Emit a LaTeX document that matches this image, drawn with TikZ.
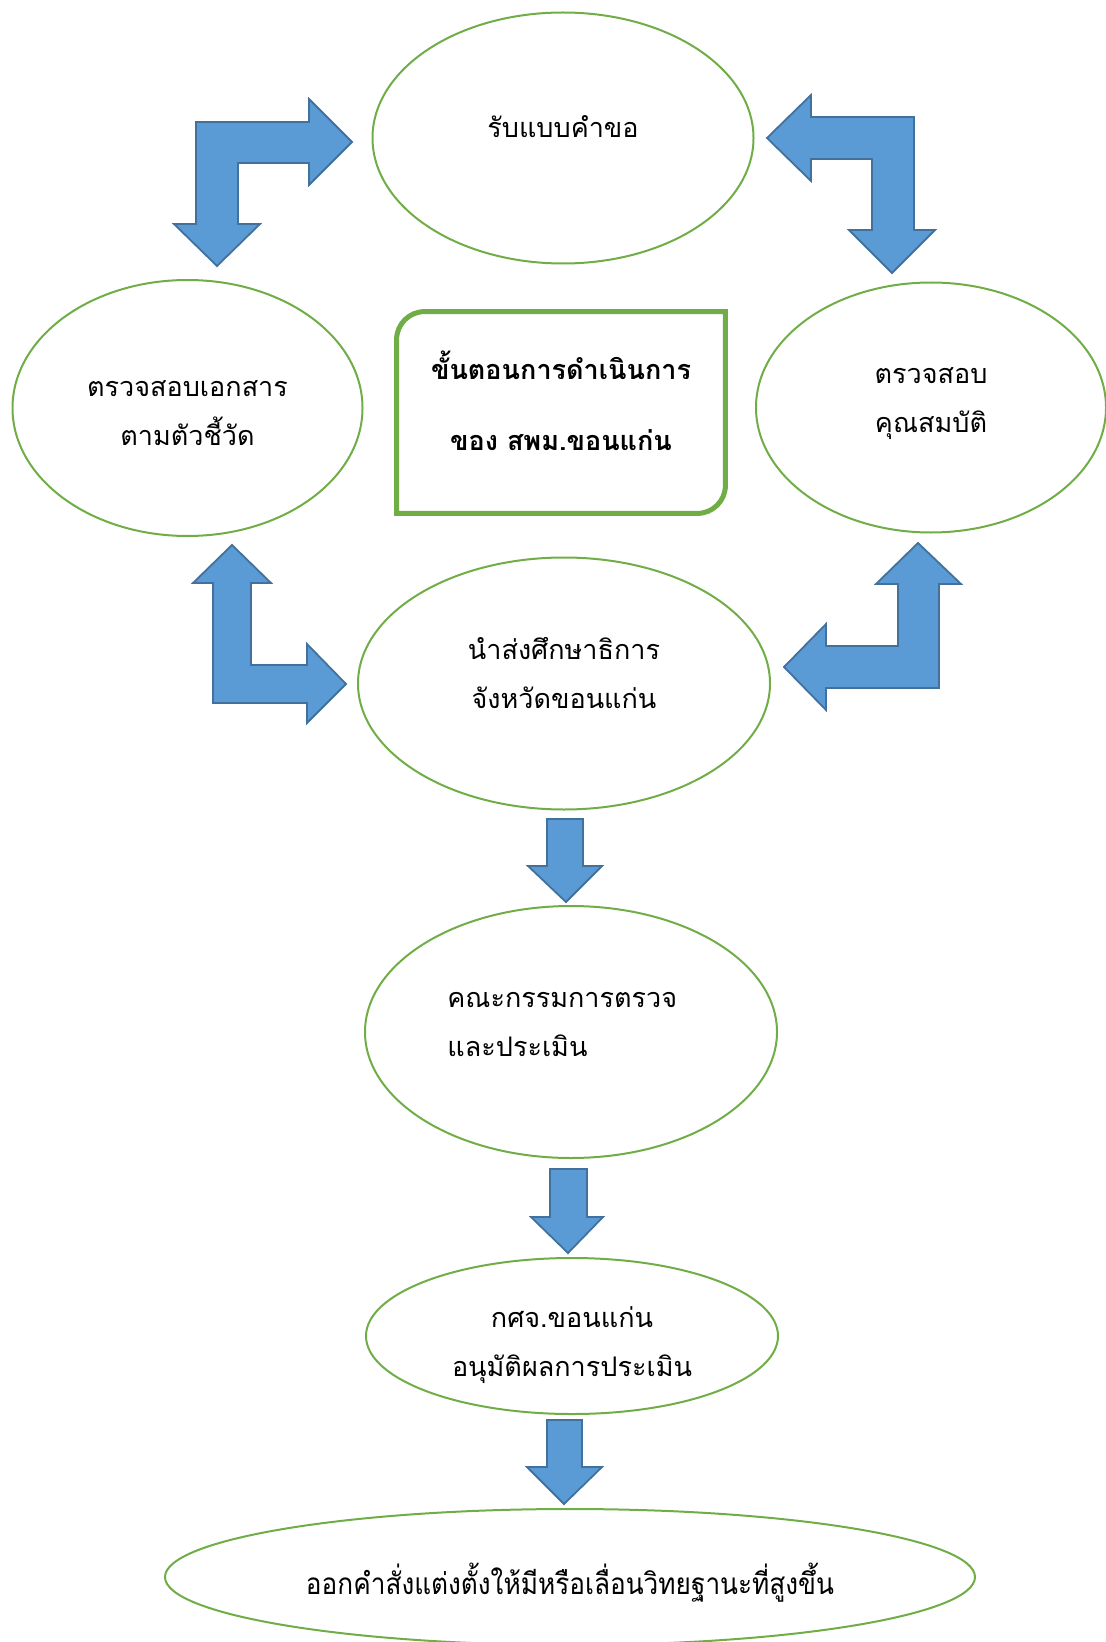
\documentclass[tikz,border=0pt]{standalone}
\usepackage{fontspec}
\newfontfamily\thaifont[Script=Thai]{Loma}
\usetikzlibrary{shapes.geometric}
\definecolor{stagegreen}{HTML}{70AD47}
\definecolor{arrowfill}{HTML}{5B9BD5}
\definecolor{arrowline}{HTML}{41719C}

\begin{document}
\begin{tikzpicture}[x=0.5pt,y=-0.5pt]

\tikzset{stage/.style = {shape=ellipse,draw=stagegreen,line width=1pt,inner sep=0pt}}
\tikzset{stagetext/.style = {align=center,inner sep=0pt,font=\thaifont\fontsize{13.5}{24.5}\selectfont}}
\tikzset{blockarrow/.style = {fill=arrowfill,draw=arrowline,line width=0.9pt,line join=miter}}
\useasboundingbox (0,0) rectangle (1106,1642);
%stages
\node[stage, minimum width=190.5pt, minimum height=125.5pt] (recv) at (563,138) {};
\node[stage, minimum width=175pt, minimum height=128pt] (docs) at (187.5,408) {};
\node[stage, minimum width=175pt, minimum height=125pt] (qual) at (931,407.5) {};
\node[stage, minimum width=206pt, minimum height=126pt] (send) at (564,683.5) {};
\node[stage, minimum width=206pt, minimum height=126pt] (comm) at (571,1032) {};
\node[stage, minimum width=206pt, minimum height=78pt] (appr) at (572,1336) {};
\node[stage, minimum width=405pt, minimum height=68pt] (order) at (570,1577) {};
%texts
\node[stagetext] (recvtext) at ([yshift=5.8pt]recv.center) {รับแบบคำขอ};
\node[stagetext] (docstext) at ([yshift=-2.4pt]docs.center) {ตรวจสอบเอกสาร\\ตามตัวชี้วัด};
\node[stagetext] (qualtext) at ([yshift=1.8pt]qual.center) {ตรวจสอบ\\คุณสมบัติ};
\node[stagetext] (sendtext) at ([yshift=5.2pt]send.center) {นำส่งศึกษาธิการ\\จังหวัดขอนแก่น};
\node[stagetext, align=left, anchor=west] (commtext) at ([yshift=3.9pt]comm.center -| 447,0) {คณะกรรมการตรวจ\\และประเมิน};
\node[stagetext] (apprtext) at ([yshift=-4.5pt]appr.center) {กศจ.ขอนแก่น\\อนุมัติผลการประเมิน};
\node[stagetext] (ordertext) at ([yshift=-3pt]order.center) {\scalebox{0.97}[1.1]{ออกคำสั่งแต่งตั้งให้มีหรือเลื่อนวิทยฐานะที่สูงขึ้น}};
%title box
\node[align=center, minimum width=164pt, minimum height=100.5pt, font=\thaifont\bfseries\fontsize{13.5}{35.5}\selectfont] (title) at (561,412.5) {};
\node[align=center, inner sep=0pt, font=\thaifont\bfseries\fontsize{13.5}{35.5}\selectfont] (titletext) at ([yshift=5.8pt]title.center) {ขั้นตอนการดำเนินการ\\ของ สพม.ขอนแก่น};
\draw[stagegreen, line width=2.5pt] (title.north east) -- ([yshift=14pt]title.south east) arc[start angle=0, end angle=-90, radius=14pt] -- (title.south west) -- ([yshift=-14pt]title.north west) arc[start angle=180, end angle=90, radius=14pt] -- cycle;
%bent arrows
\draw[blockarrow] (352,142) -- (309,185) -- (309,163) -- (238,163) -- (238,224) -- (260,224) -- (217,266) -- (174,224) -- (196,224) -- (196,122) -- (309,122) -- (309,99) -- cycle;
\draw[blockarrow] (767,138) -- (811,95) -- (811,117) -- (914,117) -- (914,230) -- (935,230) -- (892,273) -- (849,230) -- (872,230) -- (872,159) -- (811,159) -- (811,181) -- cycle;
\draw[blockarrow] (232,545) -- (271,583) -- (251,583) -- (251,665) -- (307,665) -- (307,644) -- (346,684) -- (307,723) -- (307,703) -- (213,703) -- (213,583) -- (193,583) -- cycle;
\draw[blockarrow] (918,543) -- (961,584) -- (939,584) -- (939,688) -- (826,688) -- (826,710) -- (784,667) -- (826,624) -- (826,646) -- (898,646) -- (898,584) -- (876,584) -- cycle;
%down arrows
\draw[blockarrow] (547,819) -- (583,819) -- (583,866) -- (602,866) -- (566,902) -- (528,866) -- (547,866) -- cycle;
\draw[blockarrow] (550,1169) -- (587,1169) -- (587,1217) -- (603,1217) -- (568,1253) -- (531,1217) -- (550,1217) -- cycle;
\draw[blockarrow] (547,1420) -- (582,1420) -- (582,1467) -- (602,1467) -- (564,1504) -- (527,1467) -- (547,1467) -- cycle;

\end{tikzpicture}
\end{document}
